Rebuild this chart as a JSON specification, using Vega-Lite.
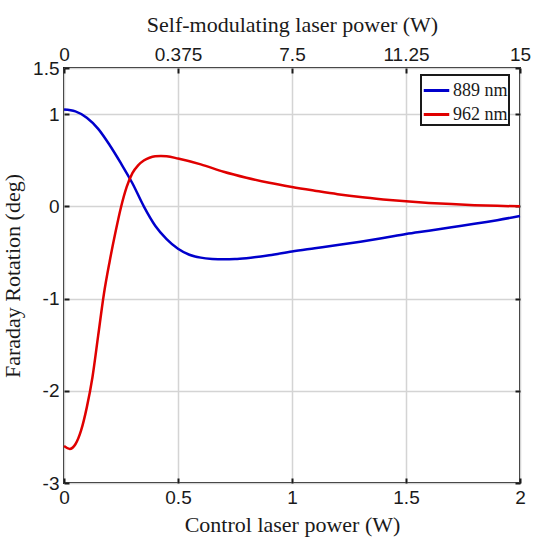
{
  "$schema": "https://vega.github.io/schema/vega-lite/v6.json",
  "autosize": "none",
  "width": 456,
  "height": 415,
  "padding": {"left": 64, "top": 68, "right": 20, "bottom": 61},
  "background": "white",
  "config": {
    "view": {"stroke": "#1a1a1a", "strokeWidth": 2},
    "axis": {
      "domain": false,
      "labelFont": "Liberation Sans",
      "labelFontSize": 19,
      "labelColor": "#1a1a1a",
      "labelExpr": "'' + datum.value",
      "titleFont": "Liberation Serif",
      "titleFontSize": 22,
      "titleFontWeight": "normal",
      "titleColor": "#1a1a1a",
      "tickColor": "#1a1a1a",
      "tickWidth": 2,
      "tickSize": -5,
      "gridColor": "#d4d4d4",
      "gridWidth": 1.5,
      "labelOverlap": false,
      "labelFlush": false,
      "labelBound": false
    }
  },
  "data": {
    "values": [
      {"x": 0, "y": 1.05, "series": "889 nm"},
      {"x": 0.05, "y": 1.03, "series": "889 nm"},
      {"x": 0.1, "y": 0.96, "series": "889 nm"},
      {"x": 0.15, "y": 0.84, "series": "889 nm"},
      {"x": 0.2, "y": 0.665, "series": "889 nm"},
      {"x": 0.25, "y": 0.465, "series": "889 nm"},
      {"x": 0.3, "y": 0.25, "series": "889 nm"},
      {"x": 0.35, "y": 0.0, "series": "889 nm"},
      {"x": 0.4, "y": -0.21, "series": "889 nm"},
      {"x": 0.45, "y": -0.355, "series": "889 nm"},
      {"x": 0.5, "y": -0.46, "series": "889 nm"},
      {"x": 0.55, "y": -0.525, "series": "889 nm"},
      {"x": 0.6, "y": -0.556, "series": "889 nm"},
      {"x": 0.65, "y": -0.57, "series": "889 nm"},
      {"x": 0.7, "y": -0.575, "series": "889 nm"},
      {"x": 0.75, "y": -0.572, "series": "889 nm"},
      {"x": 0.8, "y": -0.562, "series": "889 nm"},
      {"x": 0.9, "y": -0.53, "series": "889 nm"},
      {"x": 1.0, "y": -0.49, "series": "889 nm"},
      {"x": 1.1, "y": -0.455, "series": "889 nm"},
      {"x": 1.2, "y": -0.42, "series": "889 nm"},
      {"x": 1.3, "y": -0.383, "series": "889 nm"},
      {"x": 1.4, "y": -0.343, "series": "889 nm"},
      {"x": 1.5, "y": -0.30, "series": "889 nm"},
      {"x": 1.6, "y": -0.264, "series": "889 nm"},
      {"x": 1.7, "y": -0.226, "series": "889 nm"},
      {"x": 1.8, "y": -0.19, "series": "889 nm"},
      {"x": 1.9, "y": -0.15, "series": "889 nm"},
      {"x": 2.0, "y": -0.105, "series": "889 nm"},
      {"x": 0, "y": -2.6, "series": "962 nm"},
      {"x": 0.025, "y": -2.63, "series": "962 nm"},
      {"x": 0.05, "y": -2.58, "series": "962 nm"},
      {"x": 0.075, "y": -2.43, "series": "962 nm"},
      {"x": 0.1, "y": -2.18, "series": "962 nm"},
      {"x": 0.125, "y": -1.85, "series": "962 nm"},
      {"x": 0.15, "y": -1.4, "series": "962 nm"},
      {"x": 0.175, "y": -0.95, "series": "962 nm"},
      {"x": 0.2, "y": -0.6, "series": "962 nm"},
      {"x": 0.225, "y": -0.29, "series": "962 nm"},
      {"x": 0.25, "y": -0.01, "series": "962 nm"},
      {"x": 0.275, "y": 0.21, "series": "962 nm"},
      {"x": 0.3, "y": 0.36, "series": "962 nm"},
      {"x": 0.325, "y": 0.445, "series": "962 nm"},
      {"x": 0.35, "y": 0.497, "series": "962 nm"},
      {"x": 0.375, "y": 0.527, "series": "962 nm"},
      {"x": 0.4, "y": 0.543, "series": "962 nm"},
      {"x": 0.425, "y": 0.547, "series": "962 nm"},
      {"x": 0.45, "y": 0.543, "series": "962 nm"},
      {"x": 0.5, "y": 0.518, "series": "962 nm"},
      {"x": 0.6, "y": 0.455, "series": "962 nm"},
      {"x": 0.7, "y": 0.375, "series": "962 nm"},
      {"x": 0.8, "y": 0.31, "series": "962 nm"},
      {"x": 0.9, "y": 0.255, "series": "962 nm"},
      {"x": 1.0, "y": 0.21, "series": "962 nm"},
      {"x": 1.1, "y": 0.17, "series": "962 nm"},
      {"x": 1.2, "y": 0.132, "series": "962 nm"},
      {"x": 1.3, "y": 0.1, "series": "962 nm"},
      {"x": 1.4, "y": 0.075, "series": "962 nm"},
      {"x": 1.5, "y": 0.054, "series": "962 nm"},
      {"x": 1.6, "y": 0.037, "series": "962 nm"},
      {"x": 1.7, "y": 0.024, "series": "962 nm"},
      {"x": 1.8, "y": 0.013, "series": "962 nm"},
      {"x": 1.9, "y": 0.005, "series": "962 nm"},
      {"x": 2.0, "y": 0.0, "series": "962 nm"}
    ]
  },
  "layer": [
    {
      "mark": {"type": "line", "strokeWidth": 2.5, "interpolate": "monotone"},
      "encoding": {
        "x": {
          "field": "x", "type": "quantitative",
          "scale": {"domain": [0, 2], "nice": false},
          "axis": {"orient": "bottom", "values": [0, 0.5, 1, 1.5, 2], "title": "Control laser power (W)", "labelPadding": 10, "titlePadding": 7}
        },
        "y": {
          "field": "y", "type": "quantitative",
          "scale": {"domain": [-3, 1.5], "nice": false, "zero": false},
          "axis": {"orient": "left", "values": [-3, -2, -1, 0, 1, 1.5], "title": "Faraday Rotation (deg)", "labelPadding": 10, "titlePadding": 8}
        },
        "color": {
          "field": "series", "type": "nominal",
          "scale": {"domain": ["889 nm", "962 nm"], "range": ["#0000cc", "#e00000"]},
          "legend": {
            "title": null,
            "orient": "none",
            "legendX": 357,
            "legendY": 7,
            "strokeColor": "#1a1a1a",
            "fillColor": "white",
            "padding": 1,
            "symbolType": "stroke",
            "symbolSize": 650,
            "symbolStrokeWidth": 3,
            "labelFont": "Liberation Serif",
            "labelFontSize": 18,
            "labelColor": "#1a1a1a",
            "labelOffset": 2,
            "rowPadding": 0,
            "encode": {"legend": {"update": {"strokeWidth": {"value": 2}}}}
          }
        }
      }
    },
    {
      "mark": {"type": "line", "opacity": 0},
      "encoding": {
        "x": {
          "field": "x", "type": "quantitative",
          "axis": {
            "orient": "top", "grid": false, "values": [0, 0.5, 1, 1.5, 2],
            "labelExpr": "datum.value == 0.5 ? '0.375' : datum.value == 1 ? '7.5' : datum.value == 1.5 ? '11.25' : datum.value == 2 ? '15' : '0'",
            "title": "Self-modulating laser power (W)", "labelPadding": 9, "titlePadding": 9
          }
        },
        "y": {
          "field": "y", "type": "quantitative",
          "axis": {"orient": "right", "grid": false, "labels": false, "values": [-3, -2, -1, 0, 1, 1.5], "title": null}
        },
        "detail": {"field": "series", "type": "nominal"}
      }
    }
  ],
  "resolve": {"axis": {"x": "independent", "y": "independent"}}
}
